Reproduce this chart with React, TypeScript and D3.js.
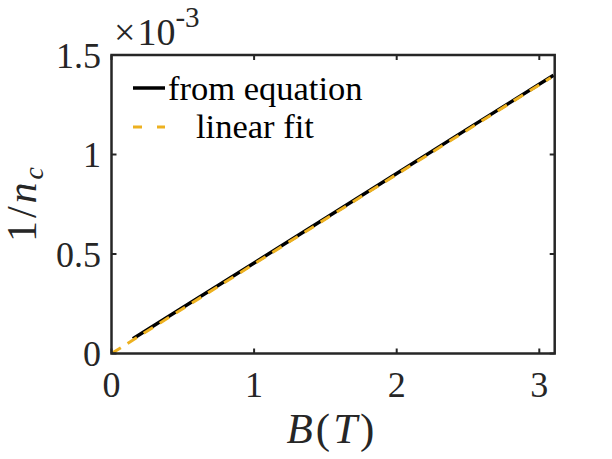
import React from "react";
import * as d3 from "d3";

const eqB = [0.15, 0.5, 1.0, 1.5, 2.0, 2.5, 3.1];
const eqInvN = [0.074, 0.231, 0.455, 0.68, 0.905, 1.13, 1.398]; // ×1e-3
const fitB = [0, 3.08];
const fitInvN = [0, 1.386];
const xTicks = [0, 1, 2, 3];
const yTicks = [0, 0.5, 1, 1.5];
const yTickLabels = ["0", "0.5", "1", "1.5"];
const legendLabels = ["from equation", "linear fit"];

const W = 612, H = 459;
const M = { left: 111.5, right: 554.7, top: 55, bottom: 353.5 };
const FONT = "Liberation Serif, Times New Roman, serif";
const AX = "#262626";
const YEL = "#EDB120";

export default function App() {
  const x = d3.scaleLinear().domain([0, 3.108]).range([M.left, M.right]);
  const y = d3.scaleLinear().domain([0, 1.5]).range([M.bottom, M.top]);
  const line = d3.line<[number, number]>().x(d => x(d[0])).y(d => y(d[1]));
  const eqPts = eqB.map((b, i) => [b, eqInvN[i]] as [number, number]);
  const fitPts = fitB.map((b, i) => [b, fitInvN[i]] as [number, number]);
  const tl = 5;
  return (
    <svg width={W} height={H} style={{ position: "absolute", left: 0, top: 0, fontFamily: FONT }}>
      <rect width={W} height={H} fill="#fff" />
      <defs>
        <clipPath id="clip">
          <rect x={M.left} y={M.top} width={M.right - M.left} height={M.bottom - M.top} />
        </clipPath>
      </defs>
      <g clipPath="url(#clip)">
        <path d={line(eqPts) || ""} fill="none" stroke="#000" strokeWidth={3.5} />
        <path d={line(fitPts) || ""} fill="none" stroke={YEL} strokeWidth={3} strokeDasharray="11,8" />
      </g>
      {xTicks.map(t => (
        <g key={"x" + t}>
          <line x1={x(t)} x2={x(t)} y1={M.bottom} y2={M.bottom - tl} stroke={AX} strokeWidth={2} />
          <line x1={x(t)} x2={x(t)} y1={M.top} y2={M.top + tl} stroke={AX} strokeWidth={2} />
          <text x={x(t)} y={397} textAnchor="middle" fontSize={36} fill={AX}>{t}</text>
        </g>
      ))}
      {yTicks.map((t, i) => (
        <g key={"y" + t}>
          <line x1={M.left} x2={M.left + tl} y1={y(t)} y2={y(t)} stroke={AX} strokeWidth={2} />
          <line x1={M.right} x2={M.right - tl} y1={y(t)} y2={y(t)} stroke={AX} strokeWidth={2} />
          <text x={101} y={y(t) + 12.5} textAnchor="end" fontSize={36} fill={AX}>{yTickLabels[i]}</text>
        </g>
      ))}
      <rect x={M.left} y={M.top} width={M.right - M.left} height={M.bottom - M.top} fill="none" stroke={AX} strokeWidth={2.5} />
      <text x={114} y={45} fontSize={38} fill={AX}>×<tspan dx={2}>10</tspan><tspan dy={-18} fontSize={29}>-3</tspan></text>
      <line x1={133} x2={165} y1={88} y2={88} stroke="#000" strokeWidth={3.5} />
      <text x={168} y={100} fontSize={34.5} fill="#000">{legendLabels[0]}</text>
      <line x1={133} x2={165} y1={127} y2={127} stroke={YEL} strokeWidth={3} strokeDasharray="9,15" />
      <text x={196} y={138} fontSize={34.5} fill="#000">{legendLabels[1]}</text>
      <text x={332} y={443} textAnchor="middle" fontSize={43} fill={AX} letterSpacing={3}>
        <tspan fontStyle="italic">B</tspan>(<tspan fontStyle="italic">T</tspan>)
      </text>
      <text transform={`translate(36,203) rotate(-90)`} textAnchor="middle" fontSize={42} fill={AX} letterSpacing={3}>
        1/<tspan fontStyle="italic">n</tspan><tspan fontStyle="italic" fontSize={28} dy={7}>c</tspan>
      </text>
    </svg>
  );
}
